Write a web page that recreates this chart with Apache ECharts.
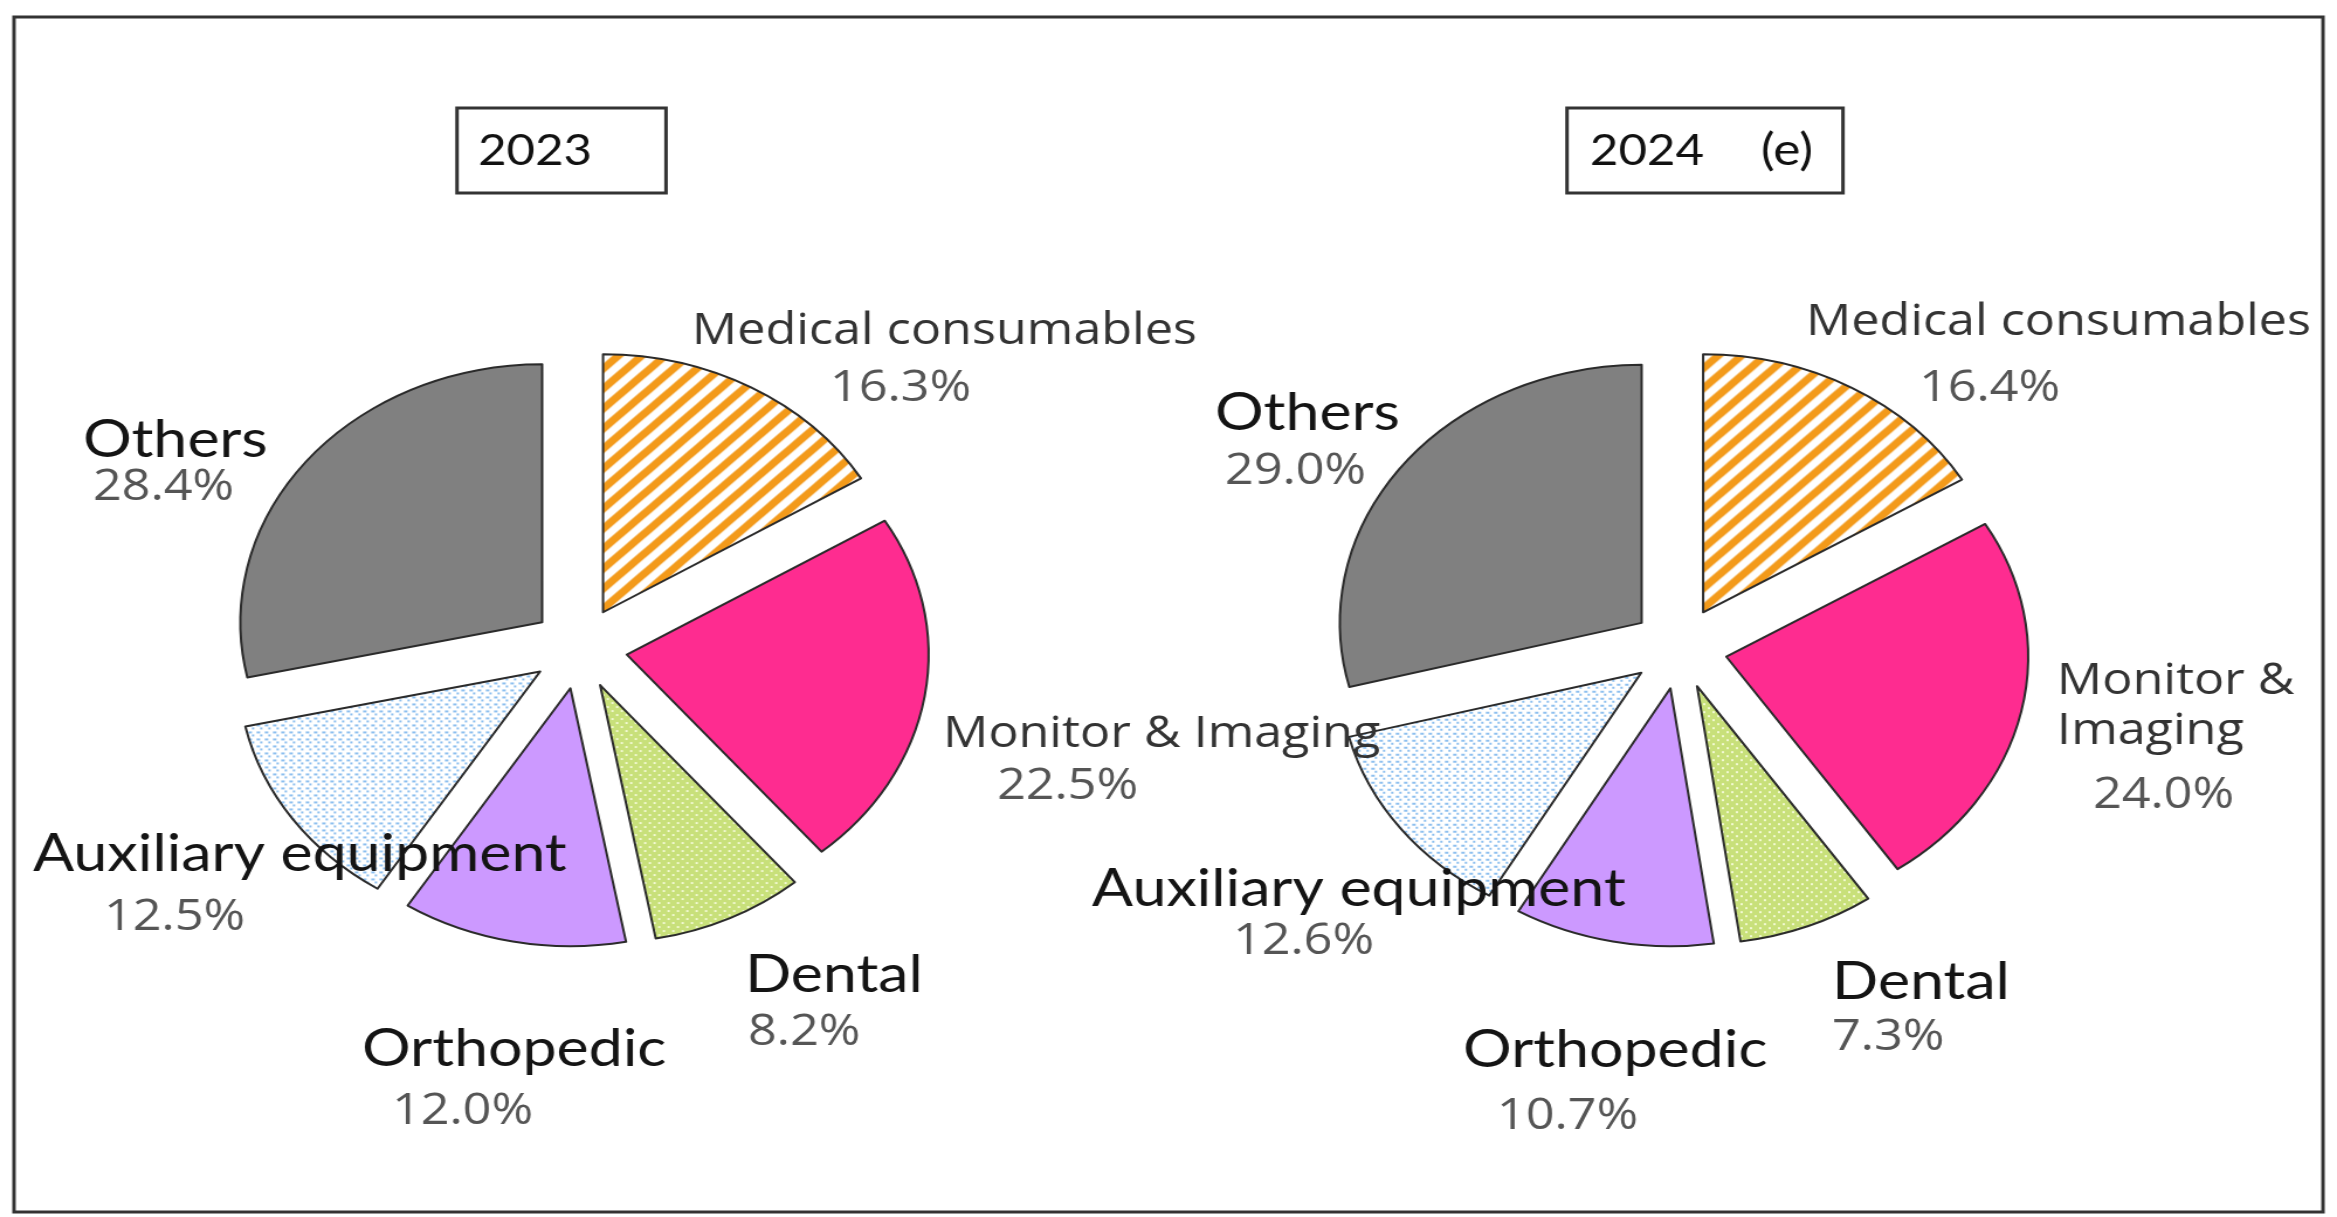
<!DOCTYPE html>
<html>
<head>
<meta charset="utf-8">
<script src="https://cdn.jsdelivr.net/npm/echarts@6/dist/echarts.min.js"></script>
<style>
html, body { margin: 0; padding: 0; background: #fff; overflow: hidden; }
#chart { width: 1998px; height: 1217px; transform-origin: 0 0; transform: scaleX(1.16967); }
</style>
</head>
<body>
<div id="chart"></div>
<script>
// data
const categories = ['Medical consumables', 'Monitor & Imaging', 'Dental', 'Orthopedic', 'Auxiliary equipment', 'Others'];
const share2023 = [16.3, 22.5, 8.2, 12.0, 12.5, 28.4];
const share2024 = [16.4, 24.0, 7.3, 10.7, 12.6, 29.0];
const yearTitles = ['2023', '2024'];
const yearNotes = ['', '(e)'];

// the reference picture is stretched sideways: draw narrower, then scale back with css
const STRETCH = 2337 / 1998;
const sx = x => x / STRETCH;

function makeTile(size, draw) {
    const c = document.createElement('canvas');
    c.width = size;
    c.height = size;
    draw(c.getContext('2d'), size);
    return { image: c, repeat: 'repeat' };
}

const stripes = makeTile(20, (g, t) => {
    g.fillStyle = '#fff';
    g.fillRect(0, 0, t, t);
    g.strokeStyle = '#F39A1A';
    g.lineWidth = 7;
    for (let c = 0; c <= 2 * t; c += t) {
        g.beginPath();
        g.moveTo(c + 4, -4);
        g.lineTo(c - t - 4, t + 4);
        g.stroke();
    }
});
const dentalDots = makeTile(8, (g, t) => {
    g.fillStyle = '#C8E07A';
    g.fillRect(0, 0, t, t);
    g.fillStyle = '#F2F9D2';
    g.fillRect(1, 1, 2, 2);
    g.fillRect(5, 5, 2, 2);
});
const auxDots = makeTile(7, (g, t) => {
    g.fillStyle = '#fff';
    g.fillRect(0, 0, t, t);
    g.fillStyle = '#8DBFEF';
    g.fillRect(1, 1, 3, 2);
    g.fillRect(4, 4, 2, 2);
});
const sliceFills = [stripes, '#FE2C90', dentalDots, '#CC99FF', auxDots, '#808080'];

// label placement, in reference picture pixels (left x, middle y)
const labelSpots = [
    [
        { name: [692, 332], pct: [830, 389] },
        { name: [943, 735], pct: [997, 787] },
        { name: [745, 975], pct: [748, 1033] },
        { name: [362, 1049], pct: [392, 1112] },
        { name: [33, 854], pct: [104, 918] },
        { name: [83, 440], pct: [93, 488] }
    ],
    [
        { name: [1806, 323], pct: [1919, 389] },
        { name: [2057, 707], pct: [2093, 796], wrap: true },
        { name: [1832, 982], pct: [1832, 1038] },
        { name: [1463, 1050], pct: [1497, 1117] },
        { name: [1092, 889], pct: [1233, 942] },
        { name: [1215, 413], pct: [1225, 472] }
    ]
];
const nameFonts = ['b', 'b', 'a', 'a', 'a', 'a'];
const pieCentersX = [579.5, 1679.5];
const titleBoxes = [[457, 666], [1567, 1843]];
const titleTextX = [[478, 0], [1590, 1761]];

function pieSeries(values, centerX) {
    return {
        type: 'pie',
        center: [sx(centerX), 648],
        radius: 258,
        startAngle: 90,
        clockwise: true,
        selectedMode: 'multiple',
        selectedOffset: 41,
        avoidLabelOverlap: false,
        silent: true,
        animation: false,
        label: { show: false },
        labelLine: { show: false },
        emphasis: { disabled: true },
        data: categories.map((name, i) => ({
            name: name,
            value: values[i],
            selected: true,
            itemStyle: { color: sliceFills[i], borderColor: '#2b2b2b', borderWidth: 2 }
        }))
    };
}

function textEl(x, y, text, font, fill, lineHeight) {
    return {
        type: 'text',
        x: sx(x),
        y: y,
        z: 100,
        style: {
            text: text,
            font: font,
            fill: fill,
            align: 'left',
            verticalAlign: 'middle',
            textAlign: 'left',
            textVerticalAlign: 'middle',
            lineHeight: lineHeight || undefined
        }
    };
}

const graphics = [];
// outer frame
graphics.push({
    type: 'rect',
    shape: { x: sx(14), y: 17, width: sx(2323) - sx(14), height: 1195 },
    style: { fill: 'none', stroke: '#333', lineWidth: 3 }
});

[share2023, share2024].forEach((values, p) => {
    const box = titleBoxes[p];
    graphics.push({
        type: 'rect',
        shape: { x: sx(box[0]), y: 108, width: sx(box[1]) - sx(box[0]), height: 85 },
        style: { fill: '#fff', stroke: '#333', lineWidth: 3 }
    });
    graphics.push(textEl(titleTextX[p][0], 151, yearTitles[p], '42px Lato', '#111'));
    if (yearNotes[p]) {
        graphics.push(textEl(titleTextX[p][1], 151, yearNotes[p], '44px Lato', '#111'));
    }

    categories.forEach((name, i) => {
        const spot = labelSpots[p][i];
        let text = name;
        if (spot.wrap) {
            const cut = name.indexOf(' ', name.indexOf('&'));
            text = name.slice(0, cut) + '\n' + name.slice(cut + 1);
        }
        const font = nameFonts[i] === 'a' ? '52px Lato' : '43px "Open Sans"';
        const fill = nameFonts[i] === 'a' ? '#141414' : '#333';
        graphics.push(textEl(spot.name[0], spot.name[1], text, font, fill, spot.wrap ? 50 : 0));
        graphics.push(textEl(spot.pct[0], spot.pct[1], values[i].toFixed(1) + '%', '43px "Open Sans"', '#555'));
    });
});

const chart = echarts.init(document.getElementById('chart'));
chart.setOption({
    backgroundColor: '#fff',
    animation: false,
    series: [pieSeries(share2023, pieCentersX[0]), pieSeries(share2024, pieCentersX[1])],
    graphic: { elements: graphics }
});
</script>
</body>
</html>
